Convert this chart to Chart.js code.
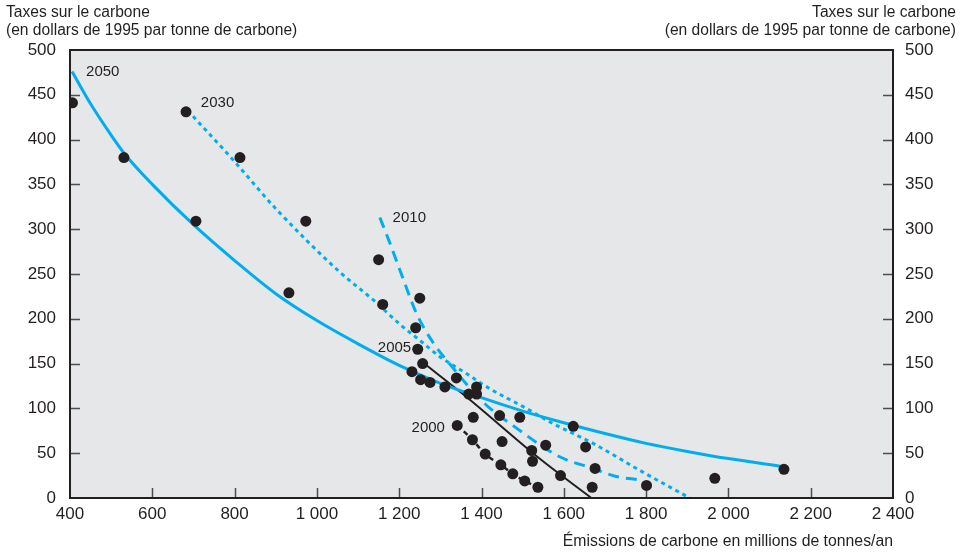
<!DOCTYPE html>
<html><head><meta charset="utf-8">
<script src="https://cdn.jsdelivr.net/npm/chart.js@4.4.1/dist/chart.umd.min.js"></script>
<style>
html,body{margin:0;padding:0;background:#fff;}
#wrap{position:relative;width:969px;height:554px;overflow:hidden;}
#c{position:absolute;left:0;top:0;}
.ytitle{position:absolute;top:3px;font-family:"Liberation Sans",Arial,Helvetica,sans-serif;font-size:15.6px;line-height:17.5px;color:#231f20;white-space:nowrap;}
</style></head><body>
<div id="wrap">
<canvas id="c" width="969" height="554" style="width:969px;height:554px"></canvas>
<div class="ytitle" style="left:6px;text-align:left">Taxes sur le carbone<br>(en dollars de 1995 par tonne de carbone)</div>
<div class="ytitle" style="right:13px;text-align:right">Taxes sur le carbone<br>(en dollars de 1995 par tonne de carbone)</div>
</div>
<script>
// ---- data ----
const xTickLabels = ['400','600','800','1 000','1 200','1 400','1 600','1 800','2 000','2 200','2 400'];
const yTickLabels = ['0','50','100','150','200','250','300','350','400','450','500'];

const emissions2050 = [405, 450, 500, 533, 600, 700, 800, 900, 1000, 1100, 1200, 1300, 1400, 1500, 1600, 1700, 1800, 1900, 2000, 2134];
const taxes2050     = [476, 440, 405, 384, 350, 305, 265, 228, 198, 172, 148, 128, 112, 97, 84, 72, 61, 52, 44, 35];

const emissions2030 = [699, 797, 902, 1056, 1137, 1209, 1250, 1298, 1363, 1420, 1501, 1574, 1671, 1784, 1906];
const taxes2030     = [426, 377, 322, 252, 221, 191, 176, 158, 139, 122, 102, 83, 61, 31, 0];

const emissions2010 = [1153, 1177, 1210, 1242, 1283, 1315, 1404, 1485, 1590, 1671, 1727, 1790];
const taxes2010     = [313, 285, 244, 206, 173, 154, 107, 78, 46, 33, 24, 20];

const emissions2005 = [1250, 1363, 1541, 1667];
const taxes2005     = [154, 113, 44, 0];

const emissions2000 = [1341, 1378, 1409, 1447, 1476, 1505, 1537];
const taxes2000     = [81, 65, 49, 37, 27, 19, 12];

const pointEmissions = [406, 531, 682, 706, 813, 932, 973, 1150, 1160, 1250, 1240, 1245, 1257, 1231, 1252, 1275, 1311, 1339, 1388, 1369, 1388, 1380, 1444, 1493, 1341, 1378, 1409, 1447, 1476, 1505, 1537, 1450, 1522, 1524, 1556, 1623, 1653, 1676, 1592, 1669, 1801, 1967, 2135];
const pointTaxes     = [441, 380, 431, 309, 380, 229, 309, 266, 216, 223, 190, 166, 150, 141, 132, 129, 124, 134, 124, 116, 116, 90, 92, 90, 81, 65, 49, 37, 27, 19, 12, 63, 53, 41, 59, 80, 57, 33, 25, 12, 14, 22, 32];

const seriesNames = ['2050', '2030', '2010', '2005', '2000'];
// label anchors (data coordinates) for the curve names
const labelEmissions = [439, 718, 1184, 1148, 1230];
const labelTaxes     = [476, 441, 313, 167.5, 78];

// ---- build ----
const zip = (xs, ys) => xs.map((x, i) => ({x, y: ys[i]}));
const BLUE = '#00aeef', INK = '#231f20';
const tickFont = {family: '"Liberation Sans", Arial, Helvetica, sans-serif', size: 17};

const framePlugin = {
  id: 'frame',
  beforeDatasetsDraw(chart) {
    const {ctx, chartArea: a} = chart;
    ctx.save();
    ctx.fillStyle = '#e6e7e8';
    ctx.fillRect(a.left, a.top, a.right - a.left, a.bottom - a.top);
    // inner tick marks
    ctx.strokeStyle = '#4d4d4f';
    ctx.lineWidth = 1.5;
    const ys = chart.scales.y, xs = chart.scales.x;
    ctx.beginPath();
    ys.ticks.forEach(t => {
      if (t.value <= 0 || t.value >= 500) return;
      const p = Math.round(ys.getPixelForValue(t.value)) + 0.5;
      ctx.moveTo(a.left, p); ctx.lineTo(a.left + 10, p);
      ctx.moveTo(a.right, p); ctx.lineTo(a.right - 10, p);
    });
    xs.ticks.forEach(t => {
      if (t.value <= 400 || t.value >= 2400) return;
      const p = Math.round(xs.getPixelForValue(t.value)) + 0.5;
      ctx.moveTo(p, a.bottom); ctx.lineTo(p, a.bottom - 10);
    });
    ctx.stroke();
    ctx.restore();
  },
  afterDatasetsDraw(chart) {
    const {ctx, chartArea: a} = chart;
    ctx.save();
    ctx.strokeStyle = INK;
    ctx.lineWidth = 2;
    ctx.strokeRect(a.left, a.top, a.right - a.left, a.bottom - a.top);
    // series name labels
    ctx.fillStyle = INK;
    ctx.font = '15px "Liberation Sans", Arial, sans-serif';
    ctx.textBaseline = 'middle';
    const xs = chart.scales.x, ys = chart.scales.y;
    seriesNames.forEach((n, i) => {
      ctx.textAlign = 'left';
      ctx.fillText(n, xs.getPixelForValue(labelEmissions[i]), ys.getPixelForValue(labelTaxes[i]));
    });
    ctx.restore();
  }
};

const lineDs = (data, opts) => Object.assign({
  type: 'scatter', data, showLine: true, pointRadius: 0, pointHoverRadius: 0,
  fill: false, order: 2, borderWidth: 3, borderColor: BLUE, tension: 0.4,
  cubicInterpolationMode: 'monotone'
}, opts);

new Chart(document.getElementById('c'), {
  type: 'scatter',
  data: {
    datasets: [
      {data: zip(pointEmissions, pointTaxes), pointRadius: 5.5, pointBackgroundColor: INK,
       pointBorderWidth: 0, showLine: false, order: 1},
      lineDs(zip(emissions2050, taxes2050), {}),
      lineDs(zip(emissions2030, taxes2030), {borderDash: [4, 4]}),
      lineDs(zip(emissions2010, taxes2010), {borderDash: [11, 7]}),
      lineDs(zip(emissions2005, taxes2005), {borderColor: INK, borderWidth: 2, tension: 0}),
      lineDs(zip(emissions2000, taxes2000), {borderColor: INK, borderWidth: 2.5, borderDash: [5, 4], tension: 0})
    ]
  },
  options: {
    responsive: false, animation: false, devicePixelRatio: 1,
    layout: {padding: {top: 50, left: 0, right: 0, bottom: 0}},
    plugins: {legend: {display: false}, tooltip: {enabled: false}},
    scales: {
      x: {
        type: 'linear', min: 400, max: 2400,
        ticks: {stepSize: 200, autoSkip: false, maxRotation: 0, color: INK, font: tickFont, padding: 6,
                callback: (v) => xTickLabels[Math.round((v - 400) / 200)]},
        grid: {display: false, drawTicks: false}, border: {display: false},
        title: {display: true, text: 'Émissions de carbone en millions de tonnes/an', align: 'end',
                color: INK, font: {family: '"Liberation Sans", Arial, sans-serif', size: 15.8},
                padding: {top: 0, bottom: 3}},
        afterFit: s => { s.height = 56; }
      },
      y: {
        position: 'left', min: 0, max: 500,
        ticks: {stepSize: 50, color: INK, font: tickFont, padding: 14,
                callback: (v) => yTickLabels[Math.round(v / 50)]},
        grid: {display: false, drawTicks: false}, border: {display: false},
        afterFit: s => { s.width = 70; }
      },
      y2: {
        position: 'right', min: 0, max: 500,
        ticks: {stepSize: 50, color: INK, font: tickFont, padding: 12,
                callback: (v) => yTickLabels[Math.round(v / 50)]},
        grid: {display: false, drawTicks: false}, border: {display: false},
        afterFit: s => { s.width = 76; }
      }
    }
  },
  plugins: [framePlugin]
});
</script>
</body></html>
